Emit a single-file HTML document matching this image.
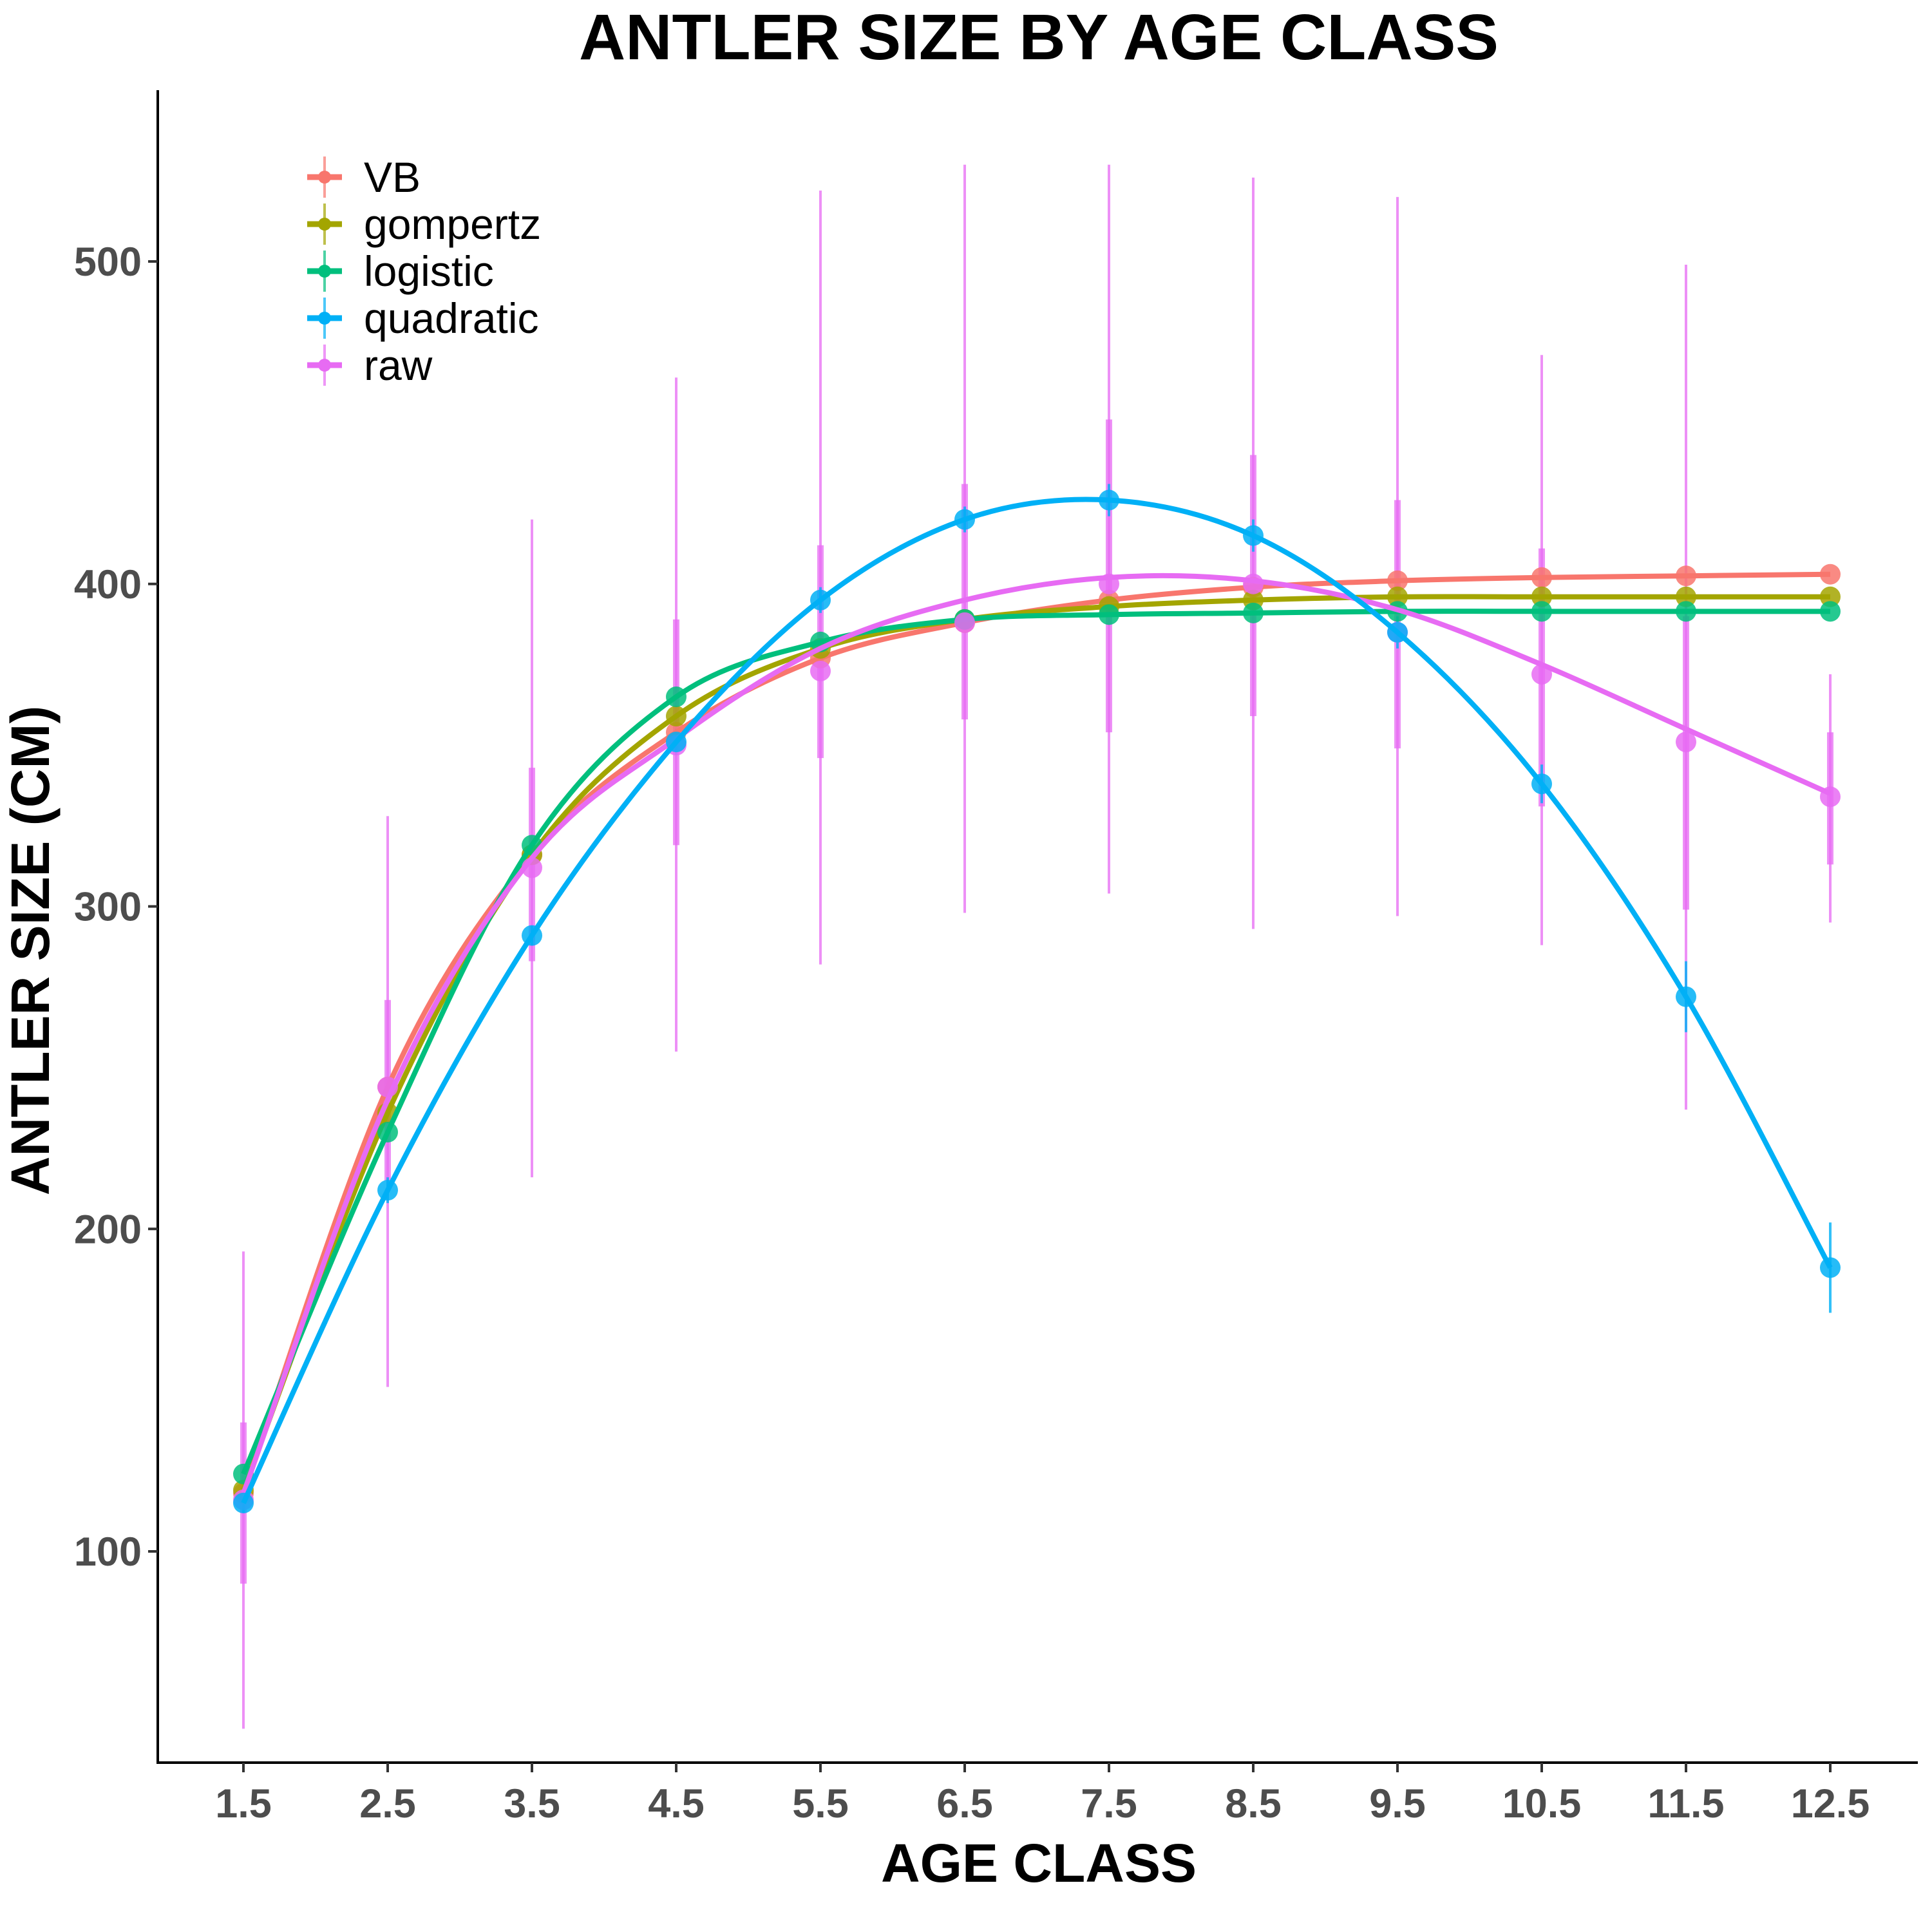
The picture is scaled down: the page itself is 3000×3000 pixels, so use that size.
<!DOCTYPE html>
<html><head><meta charset="utf-8"><style>
html,body{margin:0;padding:0;background:#fff}
svg{display:block}
text{font-family:"Liberation Sans",Arial,sans-serif}
</style></head><body>
<svg id="chart" width="3000" height="3000" viewBox="0 0 3000 3000" xmlns="http://www.w3.org/2000/svg">
<rect width="3000" height="3000" fill="#fff"/>
<text x="1613" y="92" text-anchor="middle" font-size="100" font-weight="bold">ANTLER SIZE BY AGE CLASS</text>
<g id="marks"></g>
<line x1="245" y1="140" x2="245" y2="2739" stroke="#000" stroke-width="4"/>
<line x1="243" y1="2737" x2="2978" y2="2737" stroke="#000" stroke-width="4"/>
<g id="ticks"></g>
<text x="1613" y="2922" text-anchor="middle" font-size="84" font-weight="bold">AGE CLASS</text>
<text transform="translate(76,1476) rotate(-90)" text-anchor="middle" font-size="84" font-weight="bold">ANTLER SIZE (CM)</text>
<g id="legend"></g>
</svg>
<script>
const categories = [1.5,2.5,3.5,4.5,5.5,6.5,7.5,8.5,9.5,10.5,11.5,12.5];
const yTicks = [100,200,300,400,500];
const seriesNames = ["VB","gompertz","logistic","quadratic","raw"];
const vbValues = [118,244,316,354,377,388,395,399,401,402,402.5,403];
const gompertzValues = [119,236,316,359,380,389,393,395,396,396,396,396];
const logisticValues = [124,230,319,365,382,389,390.5,391,391.5,391.5,391.5,391.5];
const quadraticValues = [115,212,291,351,395,420,426,415,385,338,272,188];
const rawPoints = [116,244,312,350,373,388,400,400,385,372,351,334];
const rawSmooth = [118,240,315,352,380,395,402,401,392,375,355,335];
const rawOuterLow = [45,151,216,255,282,298,304,293,297,288,237,295];
const rawOuterHigh = [193,328,420,464,522,530,530,526,520,471,499,372];
const rawInnerLow = [90,215,283,319,346,358,354,359,349,331,299,313];
const rawInnerHigh = [140,271,343,389,412,431,451,440,426,411,390,354];
const quadErrLow = [112,208,288,347,391,416,421,410,380,332,261,174];
const quadErrHigh = [118,216,294,355,399,424,431,420,390,344,283,202];
const colors = {VB:"#F8766D",gompertz:"#A3A500",logistic:"#00BF7D",quadratic:"#00B0F6",raw:"#E76BF3"};

const NS="http://www.w3.org/2000/svg";
function xs(v){return 378+(v-1.5)*224.0;}
function ys(v){return 2409-(v-100)*5.0075;}
function mk(tag,attrs,parent){const e=document.createElementNS(NS,tag);for(const k in attrs)e.setAttribute(k,attrs[k]);parent.appendChild(e);return e;}
function smoothPath(vals){
  const p=vals.map((v,i)=>[xs(categories[i]),ys(v)]);
  let d="M"+p[0][0]+","+p[0][1];
  for(let i=0;i<p.length-1;i++){
    const p0=p[Math.max(i-1,0)],p1=p[i],p2=p[i+1],p3=p[Math.min(i+2,p.length-1)];
    const c1=[p1[0]+(p2[0]-p0[0])/6,p1[1]+(p2[1]-p0[1])/6];
    const c2=[p2[0]-(p3[0]-p1[0])/6,p2[1]-(p3[1]-p1[1])/6];
    d+=" C"+c1[0]+","+c1[1]+" "+c2[0]+","+c2[1]+" "+p2[0]+","+p2[1];
  }
  return d;
}
const marks=document.getElementById("marks");
categories.forEach((c,i)=>{
  const a=mk("line",{x1:xs(c),x2:xs(c),y1:ys(rawOuterLow[i]),y2:ys(rawOuterHigh[i]),stroke:colors.raw,"stroke-width":4,"stroke-opacity":0.75},marks);
  
  
  const b=mk("line",{x1:xs(c),x2:xs(c),y1:ys(rawInnerLow[i]),y2:ys(rawInnerHigh[i]),stroke:colors.raw,"stroke-width":10,"stroke-opacity":0.75},marks);
  
  
  const q=mk("line",{x1:xs(c),x2:xs(c),y1:ys(quadErrLow[i]),y2:ys(quadErrHigh[i]),stroke:colors.quadratic,"stroke-width":4,"stroke-opacity":0.8},marks);
  
  
});
const lineSets=[["VB",vbValues,vbValues],["gompertz",gompertzValues,gompertzValues],["logistic",logisticValues,logisticValues],["raw",rawSmooth,rawPoints],["quadratic",quadraticValues,quadraticValues]];
lineSets.forEach(([name,lv,pv])=>{
  const g=mk("g",{},marks);
  
  
  pv.forEach((v,i)=>{
    const c=mk("circle",{cx:xs(categories[i]),cy:ys(v),r:16,fill:colors[name],"fill-opacity":0.85},g);
    
    
  });
  const p=mk("path",{d:smoothPath(lv),fill:"none",stroke:colors[name],"stroke-width":8},g);
  
  
});
const ticks=document.getElementById("ticks");
categories.forEach(c=>{
  const t=mk("line",{x1:xs(c),x2:xs(c),y1:2737,y2:2752,stroke:"#333","stroke-width":4},ticks);
  
  
  const l=mk("text",{x:xs(c),y:2822,"text-anchor":"middle","font-size":63,"font-weight":"bold",fill:"#4d4d4d"},ticks);
  l.textContent=c;
  
  
});
yTicks.forEach(v=>{
  const t=mk("line",{x1:230,x2:245,y1:ys(v),y2:ys(v),stroke:"#333","stroke-width":4},ticks);
  
  
  const l=mk("text",{x:220,y:ys(v)+22,"text-anchor":"end","font-size":63,"font-weight":"bold",fill:"#4d4d4d"},ticks);
  l.textContent=v;
  
  
});
const legend=document.getElementById("legend");
seriesNames.forEach((n,i)=>{
  const y=275+i*73;
  const g=mk("g",{},legend);
  
  
  mk("line",{x1:477,x2:531,y1:y,y2:y,stroke:colors[n],"stroke-width":9},g);
  mk("line",{x1:504,x2:504,y1:y-32,y2:y+32,stroke:colors[n],"stroke-width":4,"stroke-opacity":0.7},g);
  mk("circle",{cx:504,cy:y,r:10,fill:colors[n]},g);
  const t=mk("text",{x:565,y:y+23,"font-size":66},g);
  t.textContent=n;
});
</script>
</body></html>
